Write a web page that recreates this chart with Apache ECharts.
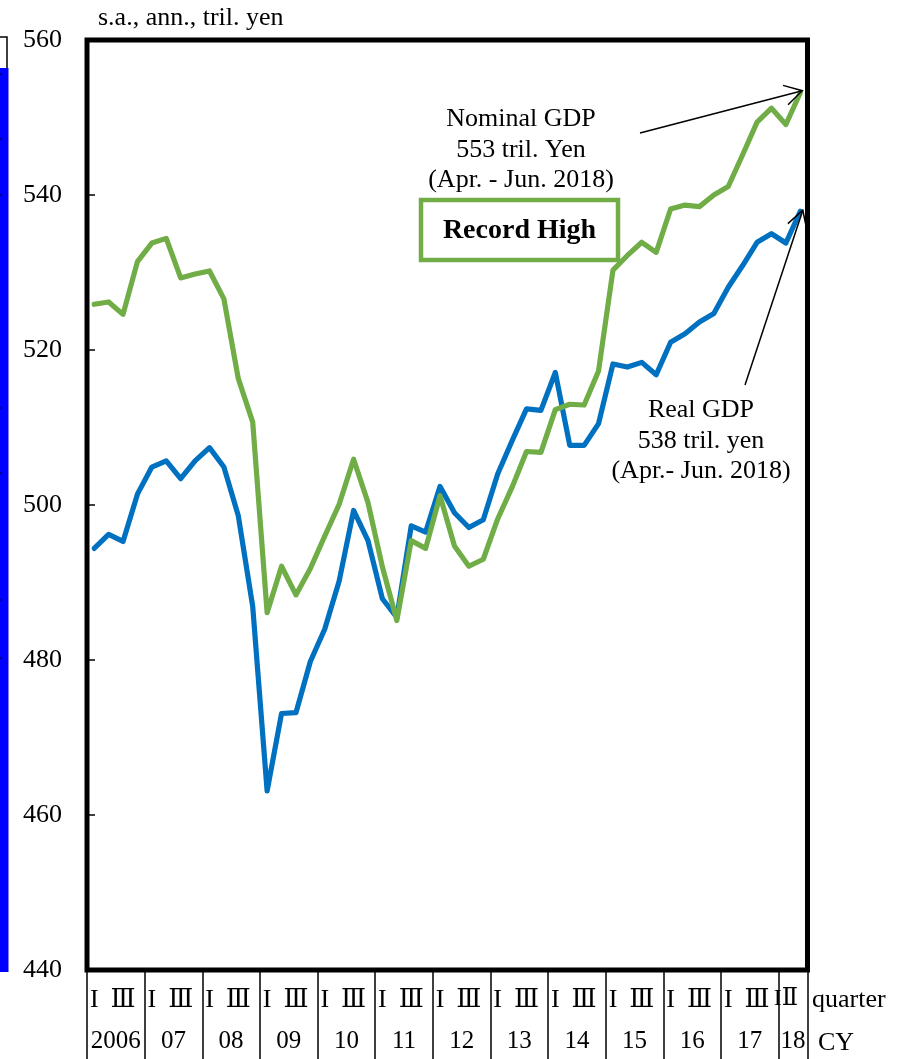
<!DOCTYPE html>
<html>
<head>
<meta charset="utf-8">
<script src="https://cdn.jsdelivr.net/npm/echarts@6/dist/echarts.min.js"></script>
<style>
  html, body { margin: 0; padding: 0; background: #fff; }
  #chart { width: 905px; height: 1059px; }
</style>
</head>
<body>
<div id="chart"></div>
<script>
// Calendar years shown under the quarter row (2006Q1 .. 2018Q2)
const years = ['2006', '07', '08', '09', '10', '11', '12', '13', '14', '15', '16', '17', '18'];
const quarterCount = 50;

// Real GDP, s.a., annualised, trillion yen
const realGDP = [
  494.4, 496.2, 495.3, 501.4,
  504.9, 505.7, 503.4, 505.7,
  507.4, 504.9, 498.6, 486.9,
  463.1, 473.1, 473.2, 479.8,
  484.0, 490.2, 499.3, 495.4,
  487.9, 485.5, 497.3, 496.5,
  502.4, 499.0, 497.1, 498.1,
  504.0, 508.3, 512.4, 512.2,
  517.1, 507.7, 507.7, 510.5,
  518.2, 517.8, 518.4, 516.8,
  521.0, 522.1, 523.6, 524.7,
  528.1, 530.9, 533.9, 535.0,
  533.8, 537.9
];

// Nominal GDP, s.a., annualised, trillion yen
const nominalGDP = [
  525.9, 526.2, 524.6, 531.4,
  533.8, 534.4, 529.3, 529.8,
  530.2, 526.6, 516.3, 510.7,
  486.1, 492.1, 488.4, 491.8,
  496.0, 500.1, 505.9, 500.3,
  492.0, 485.1, 495.4, 494.4,
  501.2, 494.7, 492.1, 493.0,
  498.2, 502.3, 506.9, 506.8,
  512.3, 513.0, 512.9, 517.3,
  530.3, 532.2, 533.9, 532.6,
  538.2, 538.7, 538.5, 540.0,
  541.1, 545.2, 549.4, 551.2,
  549.1, 553.2
];

// Value axis range
const yMin = 440, yMax = 560, yStep = 20;

const SERIF = '"Liberation Serif", "Times New Roman", "DejaVu Serif", serif';
const BLUE = '#0070C0';
const GREEN = '#70AD47';

// quarter category keys
const quarters = [];
for (let i = 0; i < quarterCount; i++) {
  quarters.push(years[Math.floor(i / 4)] + '-Q' + (i % 4 + 1));
}

// year label centred on each year's span
const yearCentres = {};
years.forEach((y, k) => {
  const s = 4 * k, e = Math.min(4 * k + 4, quarterCount);
  yearCentres[(s + e) / 2] = y;
});

const chart = echarts.init(document.getElementById('chart'), null, { renderer: 'canvas' });

const option = {
  animation: false,
  backgroundColor: '#fff',
  grid: {
    left: 87, right: 97.5, top: 40, bottom: 89,
    show: true, borderColor: '#000', borderWidth: 5, backgroundColor: 'transparent'
  },
  xAxis: [
    {
      type: 'category',
      data: quarters,
      boundaryGap: true,
      position: 'bottom',
      axisLine: { show: false },
      axisTick: {
        show: true, inside: false, length: 89,
        interval: (i) => i % 4 === 0,
        lineStyle: { color: '#000', width: 1.5 }
      },
      axisLabel: {
        interval: 0,
        margin: 17,
        color: '#000',
        fontFamily: SERIF,
        fontSize: 26,
        formatter: (v, i) => {
          if (i === quarterCount - 2 && quarterCount % 4 === 2) return '{s|I\u2161}';
          if (i === quarterCount - 1 && quarterCount % 4 === 2) return '';
          if (i % 4 === 0) return 'I';
          if (i % 4 === 2) return '\u2162';
          return '';
        },
        rich: {
          s: { fontFamily: SERIF, fontSize: 24, color: '#000' }
        }
      },
      splitLine: { show: false }
    },
    {
      type: 'value',
      min: 0, max: quarterCount, interval: 1,
      position: 'bottom',
      axisLine: { show: false },
      axisTick: { show: false },
      splitLine: { show: false },
      axisLabel: {
        margin: 59,
        color: '#000',
        fontFamily: SERIF,
        fontSize: 25,
        showMinLabel: true, showMaxLabel: true,
        formatter: (v) => yearCentres[v] || ''
      }
    }
  ],
  yAxis: {
    type: 'value',
    min: yMin, max: yMax, interval: yStep,
    axisLine: { show: false },
    axisTick: { show: true, inside: true, length: 8, lineStyle: { color: '#000', width: 1.5 } },
    splitLine: { show: false },
    axisLabel: { margin: 25, color: '#000', fontFamily: SERIF, fontSize: 26 }
  },
  series: [
    {
      name: 'Real GDP', type: 'line', data: realGDP, xAxisIndex: 0,
      symbol: 'none', lineStyle: { color: BLUE, width: 5.2, join: 'round', cap: 'round' }, z: 3
    },
    {
      name: 'Nominal GDP', type: 'line', data: nominalGDP, xAxisIndex: 0,
      symbol: 'none', lineStyle: { color: GREEN, width: 5.2, join: 'round', cap: 'round' }, z: 4
    }
  ]
};
chart.setOption(option);

// ---- annotations ----
function arrow(tail, tip) {
  const dx = tip[0] - tail[0], dy = tip[1] - tail[1];
  const len = Math.hypot(dx, dy);
  const ux = dx / len, uy = dy / len;
  const a = 30 * Math.PI / 180, L = 20;
  const arm = (sgn) => {
    const c = Math.cos(sgn * a), s = Math.sin(sgn * a);
    const bx = -ux, by = -uy;
    return [tip[0] + L * (bx * c - by * s), tip[1] + L * (bx * s + by * c)];
  };
  return [
    { type: 'line', shape: { x1: tail[0], y1: tail[1], x2: tip[0], y2: tip[1] },
      style: { stroke: '#000', lineWidth: 1.5 }, z: 20 },
    { type: 'polyline', shape: { points: [arm(1), tip, arm(-1)] },
      style: { stroke: '#000', lineWidth: 1.5, fill: null }, z: 20 }
  ];
}

const last = quarterCount - 1;
const pN = chart.convertToPixel({ xAxisIndex: 0, yAxisIndex: 0 }, [last, nominalGDP[last]]);
const pR = chart.convertToPixel({ xAxisIndex: 0, yAxisIndex: 0 }, [last, realGDP[last]]);

const txt = (text, x, y, extra) => ({
  type: 'text', z: 20,
  style: Object.assign({
    text, x, y, fill: '#000', font: '26px ' + SERIF,
    align: 'center', verticalAlign: 'middle', lineHeight: 30.5
  }, extra || {})
});

// short marks along the cut edge of the neighbouring panel
const edgeMarks = [74, 139, 195, 408, 473, 600, 658].map((y) => ({
  type: 'line', z: 22, shape: { x1: 0, y1: y, x2: 2, y2: y },
  style: { stroke: '#000', lineWidth: 1 }
}));

const graphics = [
  // unit caption
  txt('s.a., ann., tril. yen', 98, 18, { align: 'left' }),
  // axis row captions
  txt('quarter', 812, 1000, { align: 'left' }),
  txt('CY', 818, 1043, { align: 'left' }),
  // nominal GDP note
  txt('Nominal GDP\n' + Math.round(nominalGDP[last]) + ' tril. Yen\n(Apr. - Jun. 2018)', 521, 150),
  // real GDP note
  txt('Real GDP\n' + Math.round(realGDP[last]) + ' tril. yen\n(Apr.- Jun. 2018)', 701, 441),
  // record-high box
  { type: 'rect', z: 20, shape: { x: 421, y: 200, width: 197, height: 60 },
    style: { stroke: GREEN, lineWidth: 4.5, fill: '#fff' } },
  txt('Record High', 519.5, 231, { font: 'bold 28px ' + SERIF }),
  // neighbouring panel edge
  { type: 'rect', z: 20, shape: { x: -3, y: 37, width: 10, height: 33 },
    style: { stroke: '#000', lineWidth: 1.5, fill: null } },
  { type: 'rect', z: 21, shape: { x: 0, y: 68, width: 8.5, height: 904 },
    style: { fill: '#0000FF' } }
].concat(
  edgeMarks,
  arrow([640, 133], [pN[0] + 2, pN[1] - 2]),
  arrow([745, 385], [pR[0] + 2.5, pR[1] - 1])
);

chart.setOption({ graphic: graphics });
</script>
</body>
</html>
